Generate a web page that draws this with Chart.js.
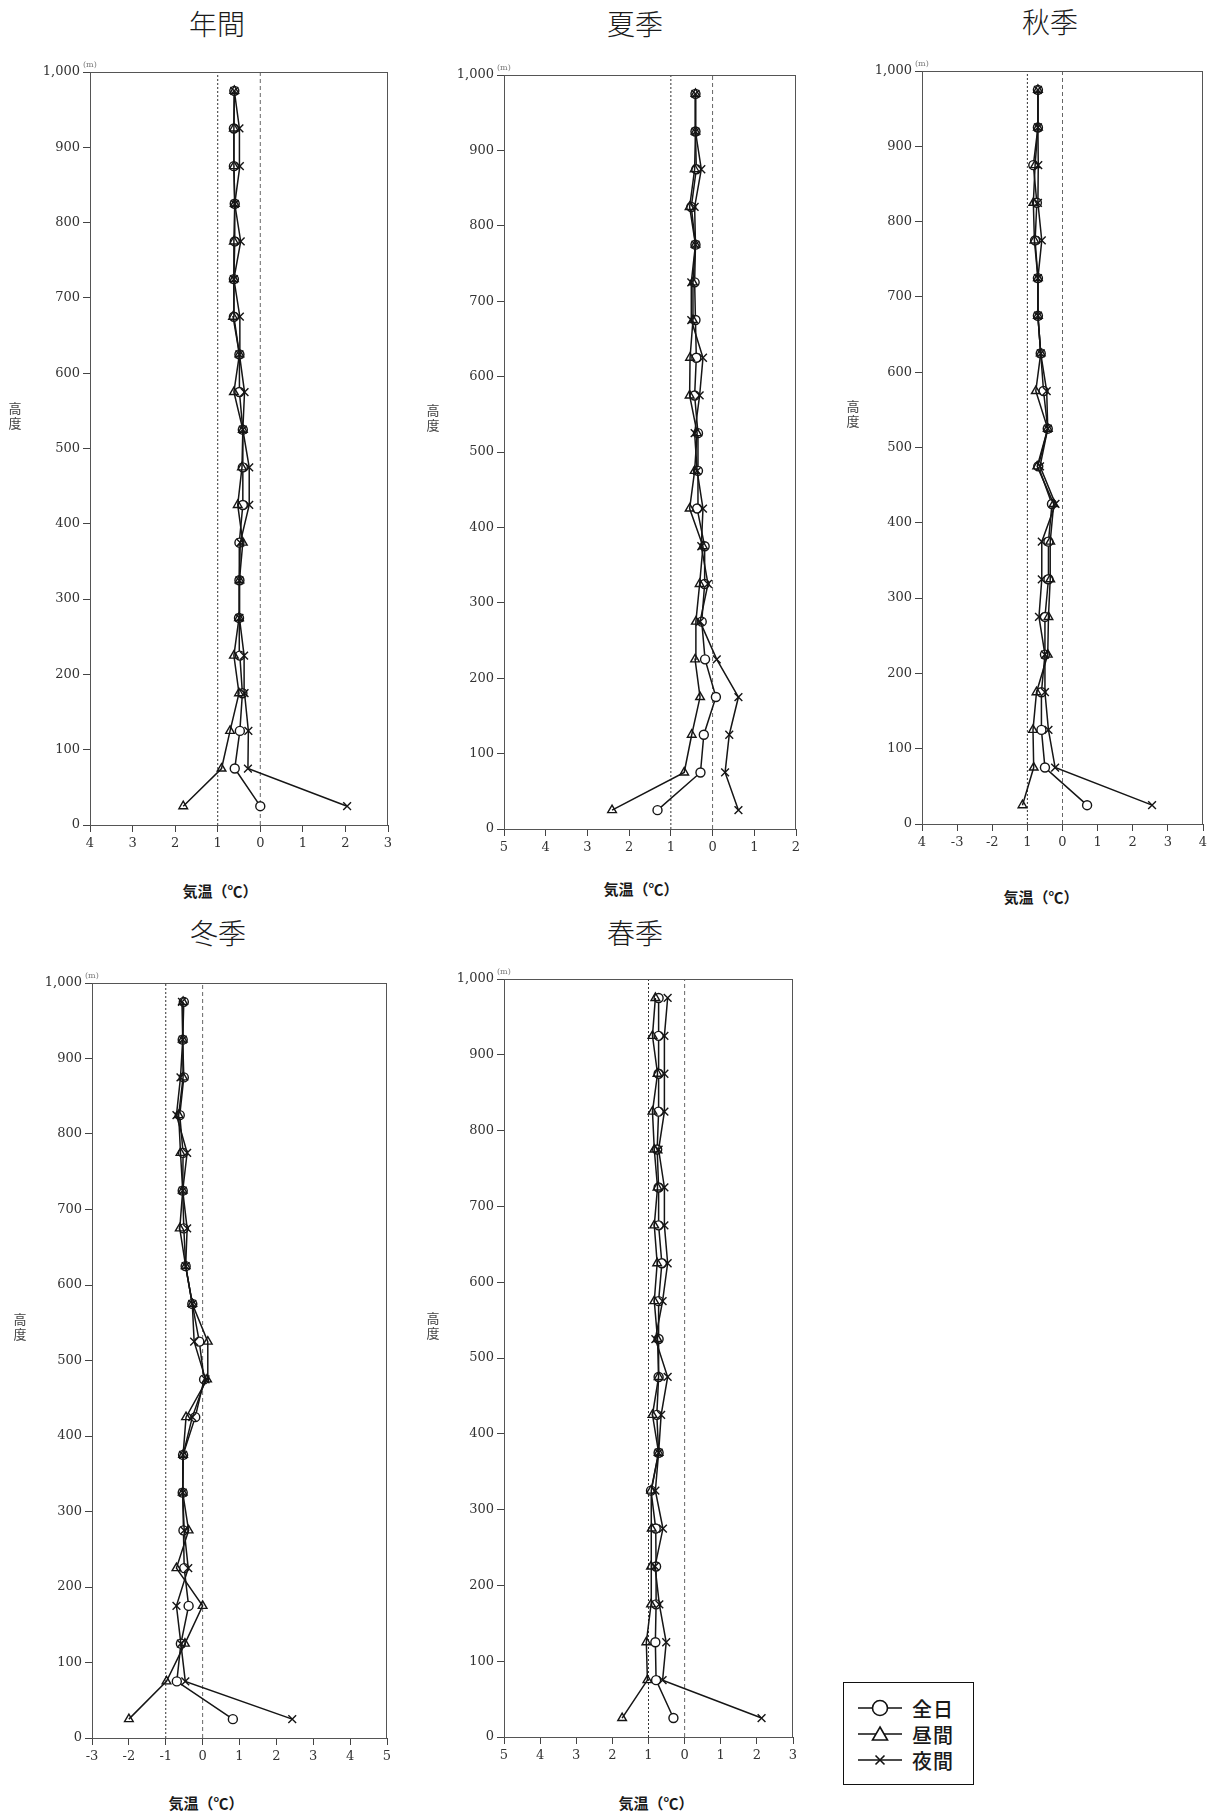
<!DOCTYPE html>
<html lang="ja">
<head>
<meta charset="utf-8">
<title>高度別気温偏差</title>
<script src="https://cdn.jsdelivr.net/npm/chart.js@4/dist/chart.umd.min.js"></script>
<style>
  html, body { margin: 0; padding: 0; background: #fff; }
  body { width: 1216px; height: 1820px; position: relative; overflow: hidden;
         font-family: "Noto Sans CJK JP", "Noto Sans", sans-serif; color: #1a1a1a; }
  canvas { position: absolute; }
  .title { position: absolute; font-size: 28px; font-weight: 300; transform: translate(-50%, -50%); white-space: nowrap; }
  .xlabel { position: absolute; font-size: 15px; font-weight: 700; transform: translate(-50%, -50%); white-space: nowrap; }
  .ylabel { position: absolute; font-size: 13px; line-height: 15px; width: 15px; text-align: center;
            transform: translate(-50%, -50%); color: #444; }
  .unit { position: absolute; font-size: 8px; color: #777; font-family: "DejaVu Serif", serif; }
  .legend { position: absolute; left: 843px; top: 1682px; width: 129px; height: 101px;
            border: 1.5px solid #111; background: #fff; }
  .legend .row { position: absolute; left: 12px; height: 26px; display: flex; align-items: center; }
  .legend .row span { font-size: 20px; font-weight: 500; margin-left: 8px; letter-spacing: 1px; }
</style>
</head>
<body>
<script>
// Heights of the observation layers (m), bottom to top
const heights = [25, 75, 125, 175, 225, 275, 325, 375, 425, 475, 525, 575, 625, 675, 725, 775, 825, 875, 925, 975];

// 年間
const annualAll   = [0.0, -0.6, -0.48, -0.42, -0.48, -0.5, -0.49, -0.49, -0.41, -0.41, -0.41, -0.49, -0.49, -0.62, -0.62, -0.6, -0.6, -0.62, -0.62, -0.61];
const annualDay   = [-1.81, -0.91, -0.71, -0.5, -0.62, -0.5, -0.49, -0.41, -0.53, -0.43, -0.41, -0.62, -0.49, -0.64, -0.62, -0.62, -0.6, -0.62, -0.62, -0.61];
const annualNight = [2.04, -0.29, -0.28, -0.37, -0.38, -0.49, -0.49, -0.47, -0.26, -0.26, -0.41, -0.37, -0.49, -0.48, -0.62, -0.46, -0.6, -0.48, -0.49, -0.61];

// 夏季
const summerAll   = [-1.32, -0.29, -0.21, 0.08, -0.18, -0.26, -0.19, -0.19, -0.37, -0.35, -0.35, -0.43, -0.39, -0.41, -0.43, -0.41, -0.51, -0.39, -0.41, -0.41];
const summerDay   = [-2.41, -0.68, -0.5, -0.3, -0.42, -0.4, -0.31, -0.23, -0.55, -0.43, -0.37, -0.55, -0.54, -0.47, -0.47, -0.41, -0.55, -0.43, -0.41, -0.41];
const summerNight = [0.62, 0.3, 0.4, 0.62, 0.1, -0.3, -0.11, -0.27, -0.23, -0.37, -0.43, -0.31, -0.23, -0.51, -0.51, -0.41, -0.43, -0.27, -0.41, -0.41];

// 秋季
const autumnAll   = [0.7, -0.5, -0.6, -0.6, -0.5, -0.5, -0.4, -0.4, -0.3, -0.69, -0.42, -0.54, -0.62, -0.7, -0.7, -0.78, -0.73, -0.83, -0.7, -0.7];
const autumnDay   = [-1.14, -0.82, -0.84, -0.74, -0.42, -0.4, -0.35, -0.35, -0.25, -0.72, -0.42, -0.76, -0.62, -0.7, -0.7, -0.8, -0.83, -0.78, -0.7, -0.7];
const autumnNight = [2.55, -0.21, -0.4, -0.5, -0.5, -0.67, -0.59, -0.59, -0.2, -0.64, -0.42, -0.45, -0.62, -0.7, -0.7, -0.59, -0.7, -0.69, -0.7, -0.7];

// 冬季
const winterAll   = [0.82, -0.7, -0.59, -0.38, -0.5, -0.52, -0.54, -0.53, -0.2, 0.04, -0.09, -0.28, -0.46, -0.51, -0.54, -0.53, -0.62, -0.51, -0.54, -0.51];
const winterDay   = [-2.0, -0.98, -0.48, 0.0, -0.71, -0.38, -0.54, -0.53, -0.45, 0.12, 0.14, -0.28, -0.46, -0.62, -0.54, -0.6, -0.65, -0.53, -0.54, -0.53];
const winterNight = [2.43, -0.47, -0.59, -0.71, -0.39, -0.5, -0.54, -0.53, -0.28, 0.08, -0.23, -0.28, -0.46, -0.42, -0.54, -0.42, -0.71, -0.6, -0.54, -0.56];

// 春季
const springAll   = [-0.31, -0.79, -0.81, -0.79, -0.79, -0.8, -0.93, -0.72, -0.77, -0.72, -0.72, -0.72, -0.63, -0.72, -0.72, -0.76, -0.72, -0.72, -0.72, -0.72];
const springDay   = [-1.73, -1.03, -1.06, -0.93, -0.93, -0.91, -0.93, -0.72, -0.89, -0.72, -0.75, -0.84, -0.76, -0.84, -0.75, -0.84, -0.89, -0.75, -0.89, -0.81];
const springNight = [2.13, -0.61, -0.51, -0.7, -0.82, -0.6, -0.81, -0.72, -0.65, -0.47, -0.81, -0.61, -0.47, -0.56, -0.56, -0.72, -0.56, -0.56, -0.56, -0.47];

// Temperature axis tick labels as printed on each panel
const annualXTicks = ['4', '3', '2', '1', '0', '1', '2', '3'];
const summerXTicks = ['5', '4', '3', '2', '1', '0', '1', '2'];
const autumnXTicks = ['4', '-3', '-2', '1', '0', '1', '2', '3', '4'];
const winterXTicks = ['-3', '-2', '-1', '0', '1', '2', '3', '4', '5'];
const springXTicks = ['5', '4', '3', '2', '1', '0', '1', '2', '3'];

// Height axis ticks
const heightTicks = [0, 100, 200, 300, 400, 500, 600, 700, 800, 900, 1000];

const seriesNames = ['全日', '昼間', '夜間'];
const referenceLines = [-1, 0];

// Panel layout: plot box in page pixels and the surrounding labels
const panels = [
  { title: '年間', all: annualAll, day: annualDay, night: annualNight, xMin: -4, xMax: 3, xTicks: annualXTicks,
    box: { left: 90, top: 72, right: 388, bottom: 825 }, titleAt: [217, 23], xlabelAt: [220, 890], ylabelAt: [15, 415] },
  { title: '夏季', all: summerAll, day: summerDay, night: summerNight, xMin: -5, xMax: 2, xTicks: summerXTicks,
    box: { left: 504, top: 75, right: 796, bottom: 829 }, titleAt: [635, 23], xlabelAt: [641, 888], ylabelAt: [433, 417] },
  { title: '秋季', all: autumnAll, day: autumnDay, night: autumnNight, xMin: -4, xMax: 4, xTicks: autumnXTicks,
    box: { left: 922, top: 71, right: 1203, bottom: 824 }, titleAt: [1050, 21], xlabelAt: [1041, 896], ylabelAt: [853, 413] },
  { title: '冬季', all: winterAll, day: winterDay, night: winterNight, xMin: -3, xMax: 5, xTicks: winterXTicks,
    box: { left: 92, top: 983, right: 387, bottom: 1738 }, titleAt: [218, 932], xlabelAt: [206, 1802], ylabelAt: [20, 1326] },
  { title: '春季', all: springAll, day: springDay, night: springNight, xMin: -5, xMax: 3, xTicks: springXTicks,
    box: { left: 504, top: 979, right: 793, bottom: 1737 }, titleAt: [635, 932], xlabelAt: [656, 1802], ylabelAt: [433, 1325] }
];

const PAD = { left: 70, top: 14, right: 14, bottom: 36 };
const INK = '#151515';
const tickFont = { family: '"DejaVu Serif", "Liberation Serif", serif', size: 13 };

// Frame around the plotting area
const framePlugin = {
  id: 'frame',
  afterDraw(chart) {
    const a = chart.chartArea, ctx = chart.ctx;
    ctx.save();
    ctx.strokeStyle = '#555';
    ctx.lineWidth = 1;
    ctx.strokeRect(a.left + 0.5, a.top + 0.5, a.right - a.left - 1, a.bottom - a.top);
    ctx.restore();
  }
};

function pairs(values) {
  return heights.map((h, i) => ({ x: values[i], y: h }));
}

function addText(cls, text, x, y) {
  const d = document.createElement('div');
  d.className = cls;
  d.textContent = text;
  d.style.left = x + 'px';
  d.style.top = y + 'px';
  document.body.appendChild(d);
  return d;
}

function drawPanel(p) {
  const b = p.box;
  const canvas = document.createElement('canvas');
  const w = b.right - b.left + PAD.left + PAD.right;
  const h = b.bottom - b.top + PAD.top + PAD.bottom;
  canvas.width = w;
  canvas.height = h;
  canvas.style.left = (b.left - PAD.left) + 'px';
  canvas.style.top = (b.top - PAD.top) + 'px';
  canvas.style.width = w + 'px';
  canvas.style.height = h + 'px';
  document.body.appendChild(canvas);

  const refSets = referenceLines.map((v, i) => ({
    label: 'ref' + v,
    data: [{ x: v, y: heightTicks[0] }, { x: v, y: heightTicks[heightTicks.length - 1] }],
    showLine: true,
    borderColor: i === 0 ? '#333' : '#666',
    borderWidth: 1,
    borderDash: i === 0 ? [2, 2] : [4, 3],
    pointRadius: 0,
    order: 10
  }));

  const styles = [
    { pointStyle: 'circle', pointRadius: 4.5, pointBackgroundColor: '#fff' },
    { pointStyle: 'triangle', pointRadius: 5, pointBackgroundColor: 'rgba(255,255,255,0)' },
    { pointStyle: 'crossRot', pointRadius: 5.5, pointBackgroundColor: 'rgba(255,255,255,0)' }
  ];
  const values = [p.all, p.day, p.night];
  const seriesSets = values.map((vals, i) => Object.assign({
    label: seriesNames[i],
    data: pairs(vals),
    showLine: true,
    borderColor: INK,
    borderWidth: 1.5,
    pointBorderColor: INK,
    pointBorderWidth: 1.4,
    tension: 0,
    order: 3 - i
  }, styles[i]));

  new Chart(canvas, {
    type: 'scatter',
    data: { datasets: refSets.concat(seriesSets) },
    plugins: [framePlugin],
    options: {
      responsive: false,
      devicePixelRatio: 1,
      animation: false,
      layout: { padding: { left: 0, top: PAD.top, right: PAD.right, bottom: 0 } },
      plugins: { legend: { display: false }, tooltip: { enabled: false } },
      scales: {
        x: {
          type: 'linear', min: p.xMin, max: p.xMax,
          afterFit(scale) { scale.height = PAD.bottom; },
          ticks: {
            stepSize: 1, color: '#333', font: tickFont, padding: 4, maxRotation: 0, autoSkip: false,
            callback: (v) => p.xTicks[Math.round(v - p.xMin)]
          },
          grid: { display: true, drawOnChartArea: false, drawTicks: true, tickLength: 7, color: '#444' },
          border: { display: true, color: '#444', width: 1 }
        },
        y: {
          type: 'linear', min: heightTicks[0], max: heightTicks[heightTicks.length - 1],
          afterFit(scale) { scale.width = PAD.left; },
          afterBuildTicks(scale) { scale.ticks = heightTicks.map(v => ({ value: v })); },
          ticks: {
            color: '#333', font: tickFont, padding: 3,
            callback: (v) => v.toLocaleString('en-US')
          },
          grid: { display: true, drawOnChartArea: false, drawTicks: true, tickLength: 7, color: '#444' },
          border: { display: true, color: '#444', width: 1 }
        }
      }
    }
  });

  addText('title', p.title, p.titleAt[0], p.titleAt[1]);
  addText('xlabel', '気温（℃）', p.xlabelAt[0], p.xlabelAt[1]);
  const yl = addText('ylabel', '', p.ylabelAt[0], p.ylabelAt[1]);
  yl.innerHTML = '高<br>度';
  addText('unit', '(m)', b.left - 7, b.top - 12);
}

panels.forEach(drawPanel);

// Legend for the three series
const legendSymbols = [
  '<circle cx="24" cy="10" r="7.5" fill="#fff" stroke="#111" stroke-width="1.6"/>',
  '<polygon points="24,3 31.5,16 16.5,16" fill="#fff" stroke="#111" stroke-width="1.6"/>',
  '<path d="M19.5,5.5 L28.5,14.5 M28.5,5.5 L19.5,14.5" stroke="#111" stroke-width="1.6"/>'
];
const legend = document.createElement('div');
legend.className = 'legend';
seriesNames.forEach((name, i) => {
  const row = document.createElement('div');
  row.className = 'row';
  row.style.top = (12 + i * 26) + 'px';
  row.innerHTML = '<svg width="48" height="20" viewBox="0 0 48 20">' +
    '<line x1="2" y1="10" x2="46" y2="10" stroke="#111" stroke-width="1.3"/>' +
    legendSymbols[i] + '</svg><span>' + name + '</span>';
  legend.appendChild(row);
});
document.body.appendChild(legend);
</script>
</body>
</html>
